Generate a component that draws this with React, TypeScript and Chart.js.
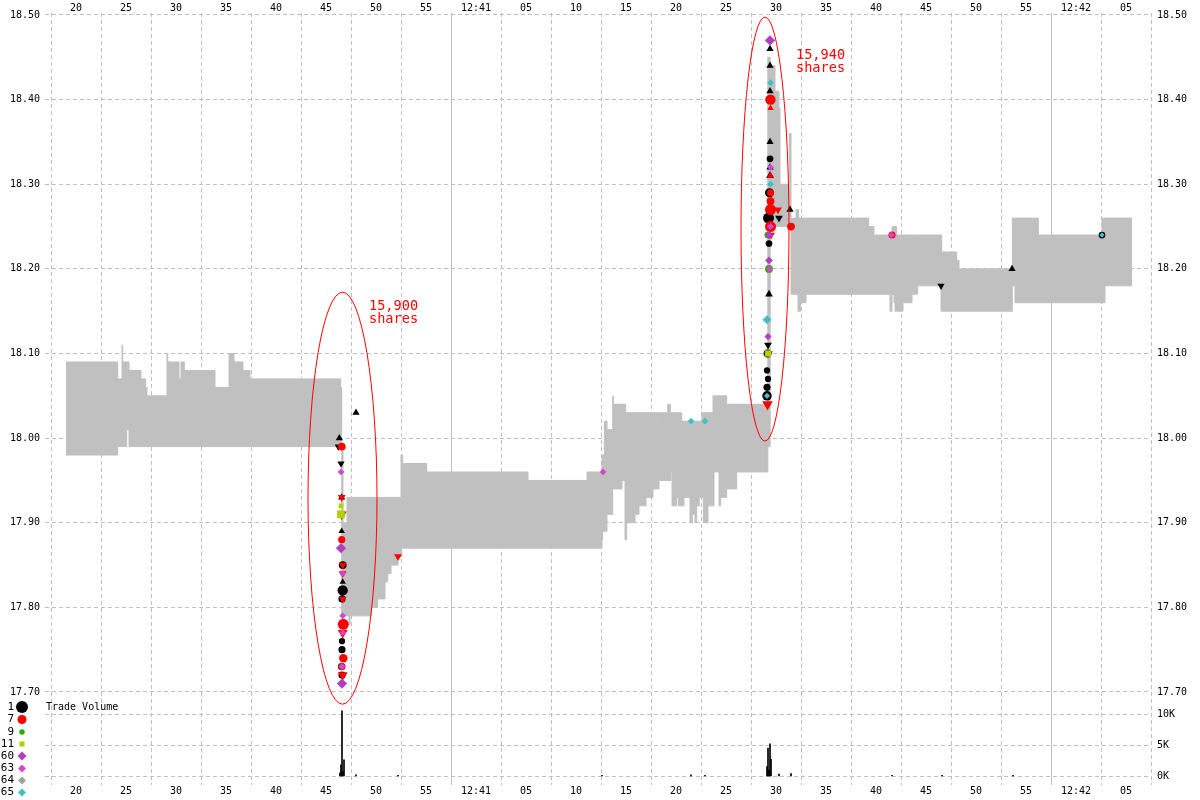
import React, { useEffect, useRef } from 'react';
import { Chart, registerables } from 'chart.js';
import { drawPoint } from 'chart.js/helpers';

Chart.register(...registerables);

// ---------- DATA ----------
// time axis: seconds after 12:40:00
const xTickValues = [20, 25, 30, 35, 40, 45, 50, 55, 60, 65, 70, 75, 80, 85, 90, 95, 100, 105, 110, 115, 120, 125];
const priceTickValues = [17.7, 17.8, 17.9, 18.0, 18.1, 18.2, 18.3, 18.4, 18.5];
const volumeTickValues = [0, 5000, 10000];
const volumeTickLabels = ['0K', '5K', '10K'];

// NBBO bid: [time, price] (each value holds until the next step)
const bidSteps: [number, number][] = [
  [19.0, 17.98], [24.17, 17.99], [25.07, 18.01], [25.3, 17.99],
  [46.57, 17.79], [47.3, 17.78], [47.4, 17.79], [49.57, 17.80], [50.17, 17.81],
  [50.9, 17.83], [51.17, 17.84], [51.5, 17.85], [52.2, 17.86], [52.57, 17.87],
  [72.6, 17.88], [72.67, 17.89], [73.1, 17.91], [73.67, 17.94], [74.6, 17.95],
  [74.9, 17.88], [75.07, 17.90], [75.9, 17.91], [76.3, 17.92], [77.0, 17.93],
  [77.7, 17.94], [78.3, 17.95], [79.5, 17.96], [79.6, 17.92], [80.07, 17.93],
  [80.23, 17.92], [80.8, 17.93], [81.4, 17.90], [81.63, 17.91], [81.9, 17.90],
  [82.07, 17.92], [82.33, 17.93], [82.73, 17.90], [83.2, 17.92], [83.8, 17.96],
  [84.3, 17.92], [84.47, 17.93], [85.07, 17.94], [86.07, 17.96],
  [89.18, 17.99], [89.42, 18.25], [91.5, 18.17], [92.2, 18.15], [92.47, 18.16],
  [93.0, 18.17], [101.4, 18.15], [101.6, 18.17], [101.8, 18.16], [101.9, 18.15],
  [102.7, 18.16], [103.6, 18.17], [104.17, 18.18], [106.5, 18.15],
  [113.63, 18.18], [113.9, 18.16], [122.9, 18.18], [125.6, 18.18],
];

// NBBO ask: [time, price]
const askSteps: [number, number][] = [
  [19.0, 18.09], [24.17, 18.07], [24.6, 18.11], [24.67, 18.09], [25.3, 18.08],
  [26.5, 18.07], [26.97, 18.06], [27.1, 18.05], [29.1, 18.10], [29.17, 18.09],
  [30.3, 18.07], [30.5, 18.09], [30.83, 18.08], [33.9, 18.06], [35.3, 18.10],
  [35.8, 18.09], [36.7, 18.08], [37.4, 18.07], [46.47, 18.06],
  [46.57, 17.99], [46.7, 17.90], [47.1, 17.93], [52.5, 17.98], [52.67, 17.97],
  [55.07, 17.96], [65.2, 17.95], [71.1, 17.96], [72.6, 17.98], [72.83, 18.02],
  [73.1, 18.01], [73.67, 18.05], [73.73, 18.04], [74.97, 18.03], [78.23, 18.02],
  [78.3, 18.03], [79.17, 18.04], [79.43, 18.03], [80.57, 18.02], [82.6, 18.03],
  [83.7, 18.05], [85.07, 18.04],
  [89.18, 18.45], [89.42, 18.44], [89.9, 18.41], [90.3, 18.39], [90.4, 18.30],
  [91.33, 18.36], [91.5, 18.26], [92.0, 18.27], [92.27, 18.26], [99.27, 18.25],
  [99.8, 18.24], [101.6, 18.25], [102.07, 18.24], [106.57, 18.22], [108.07, 18.21],
  [108.3, 18.20], [113.63, 18.26], [116.23, 18.24], [122.6, 18.26], [125.6, 18.26],
];

// trades: [time, price, shares, side]  side: A = at/above ask, B = at/below bid, M = other
type Trade = [number, number, number, string];

const tradesEx1: Trade[] = [
  [46.33, 18.00, 200, 'A'], [46.23, 17.99, 200, 'B'], [46.5, 17.97, 200, 'B'],
  [46.57, 17.93, 200, 'A'], [46.57, 17.89, 100, 'A'], [46.67, 17.85, 300, 'M'],
  [46.67, 17.83, 100, 'A'], [46.67, 17.82, 800, 'M'], [46.6, 17.81, 200, 'M'],
  [46.67, 17.78, 300, 'M'], [46.6, 17.76, 100, 'M'], [46.6, 17.75, 200, 'M'],
  [46.55, 17.73, 200, 'M'], [46.6, 17.72, 200, 'M'], [48.0, 18.03, 200, 'A'],
  [89.4, 18.46, 200, 'A'], [89.4, 18.44, 200, 'A'], [89.4, 18.41, 200, 'A'],
  [89.35, 18.40, 300, 'M'], [89.4, 18.35, 200, 'A'], [89.4, 18.33, 150, 'M'],
  [89.4, 18.32, 200, 'A'], [89.4, 18.31, 300, 'A'], [89.35, 18.29, 500, 'M'],
  [91.4, 18.27, 200, 'A'], [89.25, 18.26, 1000, 'M'], [90.3, 18.26, 300, 'B'],
  [89.3, 18.23, 150, 'M'], [89.3, 18.17, 300, 'A'], [89.2, 18.11, 300, 'B'],
  [89.15, 18.10, 300, 'M'], [89.1, 18.08, 100, 'M'], [89.2, 18.07, 100, 'M'],
  [89.1, 18.06, 200, 'M'], [89.1, 18.05, 600, 'M'],
  [106.5, 18.18, 200, 'B'], [113.6, 18.20, 200, 'A'], [122.6, 18.24, 150, 'M'],
];

const tradesEx7: Trade[] = [
  [46.57, 17.99, 300, 'M'], [46.57, 17.93, 300, 'B'], [46.57, 17.91, 800, 'B'],
  [46.57, 17.88, 200, 'M'], [46.67, 17.85, 300, 'B'], [46.67, 17.84, 300, 'B'],
  [46.67, 17.81, 300, 'B'], [46.73, 17.78, 1000, 'M'], [46.67, 17.77, 800, 'B'],
  [46.73, 17.74, 400, 'M'], [46.6, 17.73, 200, 'M'], [46.67, 17.72, 800, 'B'],
  [52.2, 17.86, 300, 'B'],
  [89.45, 18.40, 800, 'M'], [89.45, 18.39, 100, 'A'], [89.45, 18.31, 200, 'A'],
  [89.45, 18.29, 200, 'M'], [89.45, 18.28, 300, 'M'], [89.45, 18.27, 1000, 'M'],
  [90.2, 18.27, 300, 'B'], [89.45, 18.25, 1000, 'M'], [91.5, 18.25, 300, 'M'],
  [89.5, 18.24, 300, 'B'], [89.3, 18.10, 300, 'B'], [89.15, 18.04, 1000, 'B'],
  [101.6, 18.24, 200, 'M'],
];

const tradesEx9: Trade[] = [
  [89.2, 18.24, 200, 'M'], [89.3, 18.20, 300, 'M'],
];

const tradesEx11: Trade[] = [
  [46.5, 17.92, 150, 'M'], [46.5, 17.91, 1000, 'M'], [89.2, 18.10, 500, 'M'],
];

const tradesEx60: Trade[] = [
  [46.5, 17.87, 800, 'M'], [46.6, 17.71, 800, 'M'], [89.4, 18.47, 800, 'M'],
  [89.3, 18.24, 400, 'M'], [89.3, 18.21, 300, 'M'], [89.2, 18.12, 200, 'M'],
];

const tradesEx63: Trade[] = [
  [46.5, 17.96, 150, 'M'], [46.67, 17.84, 150, 'M'], [46.67, 17.79, 150, 'M'],
  [46.67, 17.77, 150, 'M'], [46.6, 17.73, 200, 'M'], [72.7, 17.96, 150, 'M'],
  [89.45, 18.32, 150, 'M'], [89.45, 18.25, 200, 'M'], [89.35, 18.20, 200, 'M'],
  [101.55, 18.24, 150, 'M'],
];

const tradesEx64: Trade[] = [];

const tradesEx65: Trade[] = [
  [89.45, 18.42, 150, 'M'], [89.45, 18.30, 150, 'M'], [89.1, 18.14, 500, 'M'],
  [89.1, 18.05, 100, 'M'], [81.5, 18.02, 150, 'M'], [82.9, 18.02, 150, 'M'],
  [122.6, 18.24, 50, 'M'],
];

// trade volume bars
const volumeTimes = [46.4, 46.5, 46.6, 46.7, 46.8, 48.0, 52.2, 72.6, 81.5, 82.9, 89.1, 89.2, 89.3, 89.4, 89.5, 90.3, 91.5, 101.6, 106.6, 113.7];
const volumeShares = [500, 1800, 10500, 700, 2600, 200, 100, 100, 200, 100, 1500, 4500, 900, 5200, 2700, 300, 400, 100, 100, 100];

// annotated bursts
const burstCenters: [number, number][] = [[46.65, 17.929], [88.9, 18.247]];
const burstHalfSpans: [number, number][] = [[3.45, 0.2434], [2.4, 0.2505]];
const burstShares = ['15,900', '15,940'];
const burstLabelAnchors: [number, number][] = [[49.3, 18.155], [92.0, 18.452]];

// ---------- STYLE / LAYOUT ----------
const FONT = '"DejaVu Sans Mono", "Liberation Mono", monospace';
const GRID = '#c0c0c0';

const exchanges = [
  { code: '1', color: '#000000', shape: 'circle', legendR: 6, order: 5, trades: tradesEx1 },
  { code: '7', color: '#ff0000', shape: 'circle', legendR: 4.5, order: 4, trades: tradesEx7 },
  { code: '9', color: '#20b000', shape: 'circle', legendR: 2.7, order: 3, trades: tradesEx9 },
  { code: '11', color: '#a8d400', shape: 'rect', legendR: 3.6, order: 3, trades: tradesEx11 },
  { code: '60', color: '#b040c0', shape: 'rectRot', legendR: 4.5, order: 2, trades: tradesEx60 },
  { code: '63', color: '#d048d0', shape: 'rectRot', legendR: 4, order: 2, trades: tradesEx63 },
  { code: '64', color: '#a0a0a0', shape: 'rectRot', legendR: 4, order: 2, trades: tradesEx64 },
  { code: '65', color: '#40c0c0', shape: 'rectRot', legendR: 4, order: 1, trades: tradesEx65 },
];

// chart area: top 13px, bottom 785px; 18.50 at y=15, 17.70 at y=692
const PMAX = 18.50 + 2 / 846.25;
const PMIN = PMAX - 772 / 846.25;
const VMAX = (776 - 13) / 0.0062;
const VMIN = -(785 - 776) / 0.0062;
const XMIN = 16.9;
const XMAX = 127.5;

const radiusFor = (shares: number, side: string) =>
  (side === 'M' ? 2 : 2.6) + Math.sqrt(shares) / 9;

function mergeQuotes() {
  const times = Array.from(new Set([...bidSteps.map(s => s[0]), ...askSteps.map(s => s[0])])).sort((a, b) => a - b);
  const at = (steps: [number, number][], t: number) => {
    let v: number | null = null;
    for (const [st, p] of steps) {
      if (st <= t + 1e-9) v = p; else break;
    }
    return v;
  };
  return times.map(t => ({ t, bid: at(bidSteps, t), ask: at(askSteps, t) }));
}

const fmtTime = (v: number) => {
  const s = Math.round(v);
  const m = Math.floor(s / 60);
  const sec = s % 60;
  if (sec === 0) return `12:${40 + m}`;
  return String(sec).padStart(2, '0');
};

const overlayPlugin = {
  id: 'overlay',
  afterDatasetsDraw(chart: any) {
    const { ctx, scales } = chart;
    const xs = scales.x;
    const ys = scales.y;
    ctx.save();
    burstCenters.forEach((c, i) => {
      const cx = xs.getPixelForValue(c[0]);
      const cy = ys.getPixelForValue(c[1]);
      const rx = Math.abs(xs.getPixelForValue(c[0] + burstHalfSpans[i][0]) - cx);
      const ry = Math.abs(ys.getPixelForValue(c[1] + burstHalfSpans[i][1]) - cy);
      ctx.strokeStyle = '#ff0000';
      ctx.lineWidth = 1;
      ctx.beginPath();
      ctx.ellipse(cx, cy, rx, ry, 0, 0, Math.PI * 2);
      ctx.stroke();
      const lx = xs.getPixelForValue(burstLabelAnchors[i][0]);
      const ly = ys.getPixelForValue(burstLabelAnchors[i][1]);
      ctx.fillStyle = '#ff0000';
      ctx.font = `13.6px ${FONT}`;
      ctx.textAlign = 'left';
      ctx.textBaseline = 'middle';
      ctx.fillText(burstShares[i], lx, ly);
      ctx.fillText('shares', lx, ly + 13);
    });
    ctx.restore();
  },
  afterDraw(chart: any) {
    const { ctx, chartArea } = chart;
    ctx.save();
    ctx.fillStyle = '#000';
    ctx.font = `10px ${FONT}`;
    ctx.textAlign = 'left';
    ctx.textBaseline = 'middle';
    ctx.fillText('Trade Volume', chartArea.left + 1, 707);
    const rows = [707, 719.5, 732, 744, 756, 768.5, 780.5, 792.5];
    ctx.font = `11px ${FONT}`;
    ctx.textAlign = 'right';
    chart.data.datasets.forEach((ds: any) => {
      if (ds.exchangeIndex === undefined) return;
      const i = ds.exchangeIndex;
      const ex = exchanges[i];
      const y = rows[i];
      ctx.fillStyle = '#000';
      ctx.fillText(ex.code, 14, y);
      ctx.fillStyle = ex.color;
      ctx.strokeStyle = ex.color;
      drawPoint(ctx, { pointStyle: ex.shape, rotation: 0, radius: ex.legendR, borderWidth: 0 } as any, 22, y);
    });
    ctx.restore();
  },
};

export default function App() {
  const canvasRef = useRef<HTMLCanvasElement | null>(null);

  useEffect(() => {
    if (!canvasRef.current) return;
    const quotes = mergeQuotes();
    const tickFont = { family: FONT, size: 10 };

    const datasets: any[] = [
      {
        type: 'line',
        label: 'Bid',
        data: quotes.map(q => ({ x: q.t, y: q.bid })),
        stepped: true,
        borderColor: GRID,
        borderWidth: 1,
        pointRadius: 0,
        fill: false,
        order: 20,
        xAxisID: 'x',
        yAxisID: 'y',
      },
      {
        type: 'line',
        label: 'Ask',
        data: quotes.map(q => ({ x: q.t, y: q.ask })),
        stepped: true,
        borderColor: GRID,
        borderWidth: 1,
        backgroundColor: GRID,
        pointRadius: 0,
        fill: '-1',
        order: 20,
        xAxisID: 'x',
        yAxisID: 'y',
      },
      {
        type: 'bar',
        label: 'Trade Volume',
        data: volumeTimes.map((t, i) => ({ x: t, y: volumeShares[i] })),
        backgroundColor: '#000000',
        barThickness: 1,
        order: 10,
        xAxisID: 'x',
        yAxisID: 'yVol',
      },
      ...exchanges.map((ex, i) => ({
        type: 'scatter',
        label: ex.code,
        exchangeIndex: i,
        data: ex.trades.map(tr => ({ x: tr[0], y: tr[1] })),
        pointStyle: ex.trades.map(tr => (tr[3] === 'A' || tr[3] === 'B' ? 'triangle' : ex.shape)),
        pointRotation: ex.trades.map(tr => (tr[3] === 'B' ? 180 : 0)),
        pointRadius: ex.trades.map(tr => radiusFor(tr[2], tr[3])),
        pointBackgroundColor: ex.color,
        pointBorderColor: ex.color,
        pointBorderWidth: 0,
        showLine: false,
        order: ex.order,
        xAxisID: 'x',
        yAxisID: 'y',
      })),
    ];

    const volToPrice = (v: number) => PMIN + ((v - VMIN) / (VMAX - VMIN)) * (PMAX - PMIN);

    const chart = new Chart(canvasRef.current, {
      type: 'scatter',
      data: { datasets },
      options: {
        responsive: false,
        animation: false,
        devicePixelRatio: 1,
        events: [],
        layout: { padding: 0 },
        plugins: { legend: { display: false }, tooltip: { enabled: false } },
        scales: {
          x: {
            type: 'linear',
            position: 'bottom',
            min: XMIN,
            max: XMAX,
            offset: false,
            bounds: 'data',
            afterBuildTicks: (s: any) => { s.ticks = xTickValues.map(v => ({ value: v })); },
            afterFit: (s: any) => { s.height = 15; },
            grid: { color: GRID, lineWidth: 1, drawTicks: false },
            border: {
              display: false,
              dash: (c: any) => (c.tick && c.tick.value % 60 === 0 ? [] : [4, 3]),
            },
            ticks: { callback: (v: any) => fmtTime(Number(v)), font: tickFont, color: '#000', padding: 0, maxRotation: 0, autoSkip: false },
          },
          xTop: {
            type: 'linear',
            position: 'top',
            min: XMIN,
            max: XMAX,
            offset: false,
            bounds: 'data',
            afterBuildTicks: (s: any) => { s.ticks = xTickValues.map(v => ({ value: v })); },
            afterFit: (s: any) => { s.height = 13; },
            grid: { display: false, drawTicks: false },
            border: { display: false },
            ticks: { callback: (v: any) => fmtTime(Number(v)), font: tickFont, color: '#000', padding: -1, maxRotation: 0, autoSkip: false },
          },
          y: {
            type: 'linear',
            position: 'left',
            min: PMIN,
            max: PMAX,
            bounds: 'data',
            afterBuildTicks: (s: any) => { s.ticks = priceTickValues.map(v => ({ value: v })); },
            afterFit: (s: any) => { s.width = 45; },
            grid: { display: false, drawTicks: false },
            border: { display: false },
            ticks: { callback: (v: any) => Number(v).toFixed(2), font: tickFont, color: '#000', padding: 5, autoSkip: false },
          },
          yR: {
            type: 'linear',
            position: 'right',
            min: PMIN,
            max: PMAX,
            bounds: 'data',
            afterBuildTicks: (s: any) => {
              const t: any[] = [
                ...volumeTickValues.map((v, i) => ({ value: volToPrice(v), vlabel: volumeTickLabels[i] })),
                ...priceTickValues.map(v => ({ value: v })),
              ];
              t.sort((a, b) => a.value - b.value);
              s.ticks = t;
            },
            afterFit: (s: any) => { s.width = 49; },
            grid: { color: GRID, lineWidth: 1, drawTicks: false },
            border: { display: false, dash: [4, 3] },
            ticks: {
              callback: (v: any, i: number, ticks: any[]) => (ticks[i] && ticks[i].vlabel) ? ticks[i].vlabel : Number(v).toFixed(2),
              font: tickFont,
              color: '#000',
              padding: 6,
              autoSkip: false,
            },
          },
          yVol: {
            type: 'linear',
            display: false,
            min: VMIN,
            max: VMAX,
          },
        },
      } as any,
      plugins: [overlayPlugin],
    });

    return () => chart.destroy();
  }, []);

  return (
    <div style={{ position: 'absolute', left: 0, top: 0, width: 1200, height: 800, background: '#fff' }}>
      <canvas ref={canvasRef} width={1200} height={800} style={{ display: 'block' }} />
    </div>
  );
}
